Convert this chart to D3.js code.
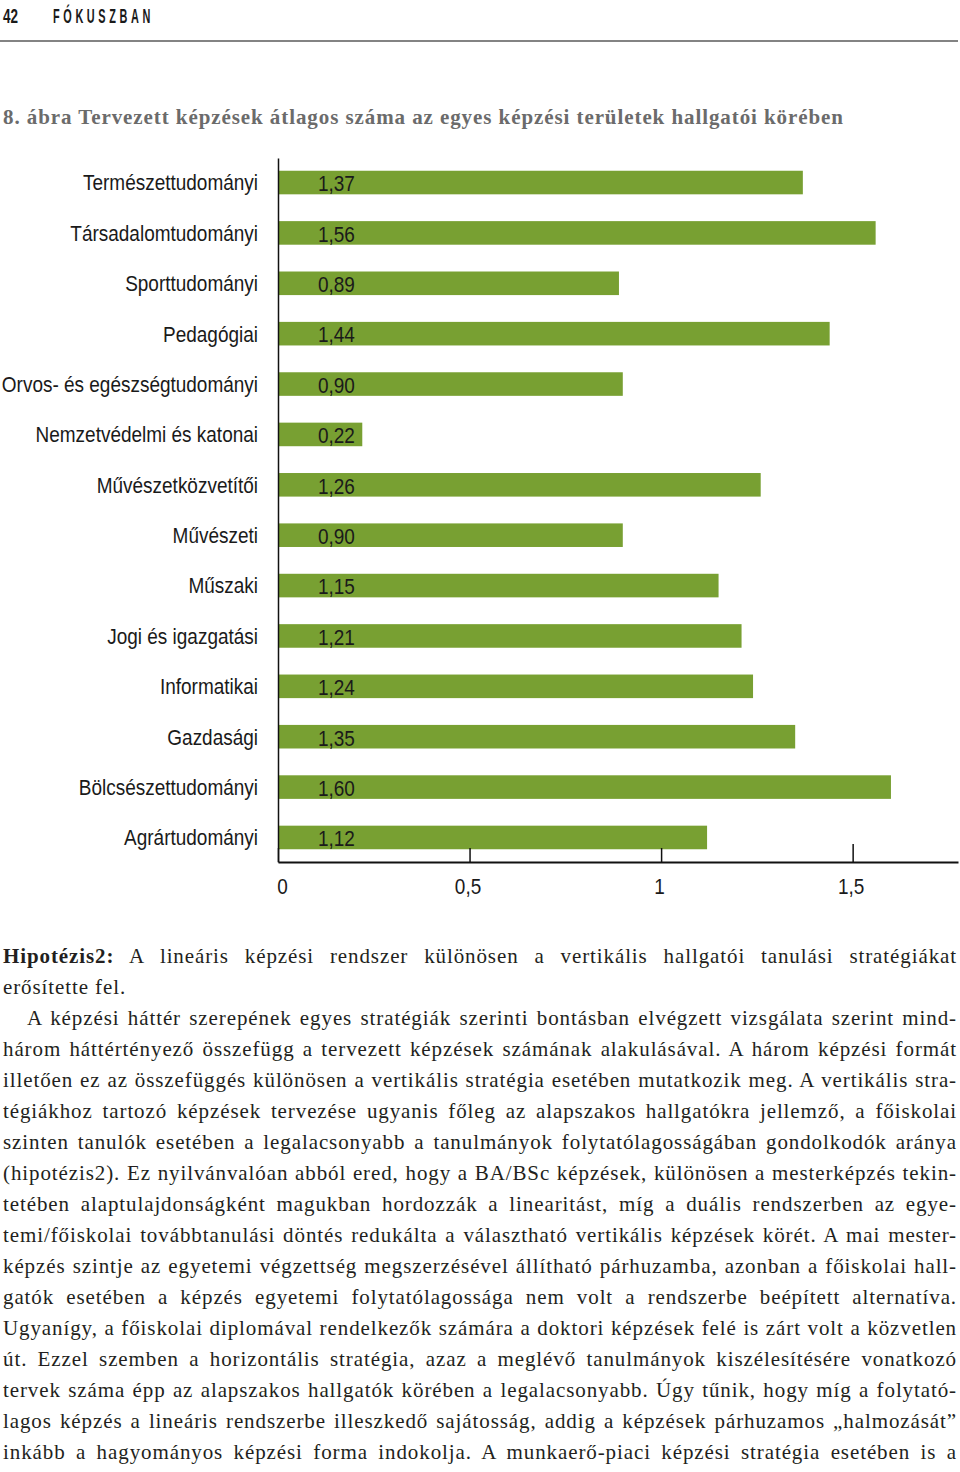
<!DOCTYPE html>
<meta charset="utf-8">
<style>
body { margin: 0; background: #fff; }
svg { display: block; }
.cat text, .val, .xax text {
  font-family: "Liberation Sans", Arial, sans-serif;
  font-size: 22px;
  fill: #1a1a1a;
}
.head { font-family: "Liberation Sans", Arial, sans-serif; font-weight: bold; font-size: 21px; fill: #1a1a1a; }
.title { font-family: "Liberation Serif", serif; font-weight: bold; font-size: 21px; fill: #6b6b6b; }
.body { font-family: "Liberation Serif", serif; font-size: 21px; letter-spacing: 0.9px; fill: #231f20; }
</style>
<svg width="960" height="1472"></svg>
<script src="https://d3js.org/d3.v7.min.js"></script>
<script>

// chart data
var categories = ["Természettudományi", "Társadalomtudományi", "Sporttudományi", "Pedagógiai",
  "Orvos- és egészségtudományi", "Nemzetvédelmi és katonai", "Művészetközvetítői", "Művészeti",
  "Műszaki", "Jogi és igazgatási", "Informatikai", "Gazdasági", "Bölcsészettudományi", "Agrártudományi"];
var values = [1.37, 1.56, 0.89, 1.44, 0.90, 0.22, 1.26, 0.90, 1.15, 1.21, 1.24, 1.35, 1.60, 1.12];
var tickValues = [0, 0.5, 1, 1.5];
var xMax = 1.775;

var pageNo = "42",
    section = "FÓKUSZBAN",
    title = "8. ábra Tervezett képzések átlagos száma az egyes képzési területek hallgatói körében";

var hypoLabel = "Hipotézis2:";
var bodyLines = [
  " A lineáris képzési rendszer különösen a vertikális hallgatói tanulási stratégiákat",
  "erősítette fel.",
  "A képzési háttér szerepének egyes stratégiák szerinti bontásban elvégzett vizsgálata szerint mind-",
  "három háttértényező összefügg a tervezett képzések számának alakulásával. A három képzési formát",
  "illetően ez az összefüggés különösen a vertikális stratégia esetében mutatkozik meg. A vertikális stra-",
  "tégiákhoz tartozó képzések tervezése ugyanis főleg az alapszakos hallgatókra jellemző, a főiskolai",
  "szinten tanulók esetében a legalacsonyabb a tanulmányok folytatólagosságában gondolkodók aránya",
  "(hipotézis2). Ez nyilvánvalóan abból ered, hogy a BA/BSc képzések, különösen a mesterképzés tekin-",
  "tetében alaptulajdonságként magukban hordozzák a linearitást, míg a duális rendszerben az egye-",
  "temi/főiskolai továbbtanulási döntés redukálta a választható vertikális képzések körét. A mai mester-",
  "képzés szintje az egyetemi végzettség megszerzésével állítható párhuzamba, azonban a főiskolai hall-",
  "gatók esetében a képzés egyetemi folytatólagossága nem volt a rendszerbe beépített alternatíva.",
  "Ugyanígy, a főiskolai diplomával rendelkezők számára a doktori képzések felé is zárt volt a közvetlen",
  "út. Ezzel szemben a horizontális stratégia, azaz a meglévő tanulmányok kiszélesítésére vonatkozó",
  "tervek száma épp az alapszakos hallgatók körében a legalacsonyabb. Úgy tűnik, hogy míg a folytató-",
  "lagos képzés a lineáris rendszerbe illeszkedő sajátosság, addig a képzések párhuzamos „halmozását”",
  "inkább a hagyományos képzési forma indokolja. A munkaerő-piaci képzési stratégia esetében is a"
];

var svg = d3.select("svg");

var hu = d3.formatLocale({decimal: ",", thousands: " ", grouping: [3], currency: ["", " Ft"]});
var fmtVal = hu.format(".2f"),
    fmtTick = hu.format("");

// squeeze texts horizontally to mimic a condensed face
function condense(sel, k) {
  sel.each(function() {
    var w = this.getComputedTextLength();
    d3.select(this).attr("textLength", w * k).attr("lengthAdjust", "spacingAndGlyphs");
  });
}

// page header
svg.append("text").attr("class", "head").attr("x", 3).attr("y", 23)
    .attr("textLength", 15).attr("lengthAdjust", "spacingAndGlyphs").text(pageNo);
svg.append("text").attr("class", "head").attr("x", 53).attr("y", 23)
    .style("letter-spacing", "7px")
    .attr("textLength", 101).attr("lengthAdjust", "spacingAndGlyphs").text(section);
svg.append("line").attr("x1", 0).attr("x2", 958).attr("y1", 41).attr("y2", 41)
    .attr("stroke", "#5a5a5a").attr("stroke-width", 1.6);

svg.append("text").attr("class", "title").attr("x", 3).attr("y", 124)
    .attr("textLength", 840).attr("lengthAdjust", "spacing").text(title);

// scales
var x = d3.scaleLinear().domain([0, xMax]).range([278, 958]);
var y = d3.scaleBand().domain(categories).range([158, 862])
    .paddingInner(0.532).paddingOuter(0.253);

// bars
svg.append("g").selectAll("rect")
    .data(values)
  .join("rect")
    .attr("x", x(0))
    .attr("y", function(d, i) { return y(categories[i]); })
    .attr("width", function(d) { return x(d) - x(0); })
    .attr("height", y.bandwidth())
    .attr("fill", "#78a032");

var vals = svg.append("g").selectAll("text")
    .data(values)
  .join("text")
    .attr("class", "val")
    .attr("x", x(0) + 40)
    .attr("y", function(d, i) { return y(categories[i]) + y.bandwidth() / 2; })
    .attr("dy", "0.4em")
    .text(function(d) { return fmtVal(d); });

// category axis
var yAxis = d3.axisLeft(y).tickSize(0).tickPadding(20);
var gy = svg.append("g").attr("class", "cat")
    .attr("transform", "translate(" + x(0) + ",0)")
    .call(yAxis);
gy.selectAll("text").attr("dy", "0.36em");
gy.select(".domain").attr("stroke", "#111").attr("stroke-width", 1.5);

// width of the first label in the reference is about 175px
var k = 175 / gy.select(".tick text").node().getComputedTextLength();
condense(gy.selectAll("text"), k);
condense(vals, k);

// value axis
var xAxis = d3.axisBottom(x).tickValues(tickValues).tickSizeInner(-14).tickSizeOuter(0)
    .tickPadding(16).tickFormat(fmtTick);
var gx = svg.append("g").attr("class", "xax")
    .attr("transform", "translate(0," + y.range()[1] + ")")
    .call(xAxis);
gx.select(".domain").attr("stroke", "#111").attr("stroke-width", 1.8);
gx.selectAll(".tick line").attr("stroke", "#111").attr("stroke-width", 1.5)
    .filter(function(d) { return d === 1.5; }).attr("y2", -18);
gx.selectAll(".tick text").filter(function(d) { return d === 0; }).attr("dx", 4);
gx.selectAll(".tick text").filter(function(d) { return d > 0; }).attr("dx", -2);
condense(gx.selectAll(".tick text"), k);

// body text, justified line by line
var left = 3, right = 957, lineH = 31, firstBase = 963;
bodyLines.forEach(function(line, i) {
  var x0 = i === 2 ? 27 : left;
  var t = svg.append("text").attr("class", "body")
      .attr("x", x0).attr("y", firstBase + i * lineH);
  if (i === 0) {
    t.append("tspan").attr("font-weight", "bold").text(hypoLabel);
    t.append("tspan").text(line);
  } else {
    t.text(line);
  }
  if (i !== 1) {
    var full = (i === 0 ? hypoLabel : "") + line;
    var spaces = (full.match(/ /g) || []).length;
    var w = t.node().getComputedTextLength();
    t.style("word-spacing", ((right - x0 - w) / spaces) + "px");
  }
});

</script>
